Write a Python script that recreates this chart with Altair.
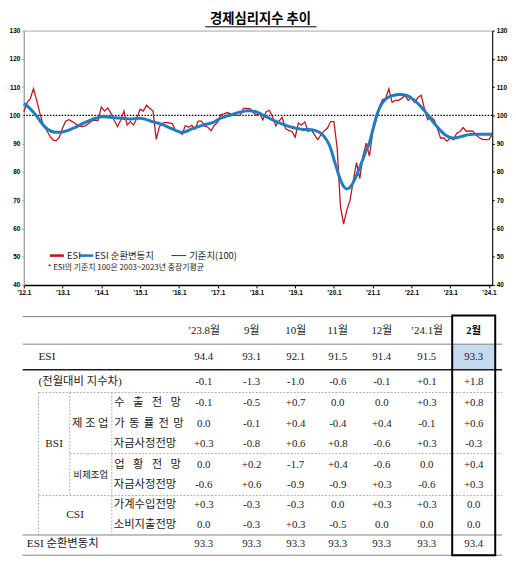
import altair as alt
import pandas as pd

# ---------------- data ----------------
title_text = "경제심리지수 추이"

# monthly ESI, Jan 2012 .. Feb 2024
esi = [
    101.3, 104.4, 105.9, 109.4, 105.3, 100.7, 96.6, 94.9, 92.8, 91.3, 91.0, 92.3,   # 2012
    95.5, 98.0, 98.5, 97.8, 97.0, 96.2, 96.0, 96.3, 97.0, 98.0, 98.3, 98.2,         # 2013
    103.0, 101.5, 102.6, 100.7, 98.3, 96.0, 98.3, 101.5, 96.6, 97.8, 96.6, 99.0,    # 2014
    102.2, 101.5, 103.6, 102.5, 101.5, 91.5, 96.0, 97.3, 97.5, 97.3, 97.0, 94.5,    # 2015
    94.5, 93.3, 96.4, 95.8, 96.5, 95.2, 98.0, 98.0, 96.2, 95.8, 94.6, 96.5,         # 2016
    97.5, 100.3, 100.5, 101.0, 100.5, 100.0, 100.0, 100.0, 102.5, 102.5, 102.4, 101.0,  # 2017
    100.1, 100.7, 98.4, 101.3, 101.8, 99.5, 96.3, 98.0, 99.3, 95.3, 94.7, 94.3,     # 2018
    92.3, 97.3, 96.6, 97.7, 94.3, 94.9, 93.1, 91.4, 93.2, 94.5, 95.5, 97.8,         # 2019
    97.8, 88.5, 68.0, 61.5, 66.5, 70.0, 77.0, 83.3, 77.6, 85.6, 90.2, 85.6,         # 2020
    94.0, 98.0, 102.5, 105.5, 106.0, 109.4, 104.6, 105.3, 105.3, 106.0, 107.0, 105.3,  # 2021
    106.3, 104.5, 106.3, 107.1, 102.5, 98.5, 99.5, 98.4, 95.5, 92.0, 92.0, 90.9,    # 2022
    92.0, 91.4, 93.7, 94.3, 95.7, 94.3, 94.5, 94.4, 93.1, 92.1, 91.5, 91.4,         # 2023
    91.5, 93.3,                                                                     # 2024
]

# monthly ESI cyclical component, Jan 2012 .. Feb 2024
esi_cycle = [
    104.2, 103.4, 102.3, 101.1, 99.7, 98.1, 96.6, 95.5, 94.7, 94.2, 94.0, 94.0,
    94.1, 94.4, 94.8, 95.3, 95.8, 96.4, 97.0, 97.5, 98.0, 98.5, 98.9, 99.2,
    99.5, 99.5, 99.4, 99.3, 99.2, 99.1, 99.0, 98.9, 98.8, 98.7, 98.8, 98.9,
    99.0, 98.8, 98.5, 98.1, 97.7, 97.4, 97.1, 96.7, 96.2, 95.7, 95.2, 94.7,
    94.2, 94.0, 94.2, 94.7, 95.2, 95.6, 96.0, 96.4, 96.7, 97.0, 97.3, 97.7,
    98.4, 99.0, 99.4, 99.8, 100.1, 100.5, 100.9, 101.2, 101.4, 101.6, 101.6, 101.5,
    101.2, 100.7, 100.1, 99.6, 99.0, 98.4, 97.9, 97.4, 96.9, 96.5, 96.1, 95.8,
    95.5, 95.3, 95.1, 95.0, 95.0, 94.9, 94.7, 94.3, 93.6, 92.5, 90.8, 88.3,
    84.4, 80.7, 77.2, 74.9, 74.0, 74.6, 76.3, 78.8, 81.6, 84.6, 87.6, 90.3,
    94.8, 99.0, 102.3, 104.4, 105.7, 106.5, 107.0, 107.2, 107.4, 107.4, 107.2, 106.8,
    106.1, 105.2, 104.2, 103.0, 101.7, 100.2, 98.7, 97.3, 95.9, 94.6, 93.5, 92.7,
    92.2, 92.0, 92.1, 92.4, 92.7, 93.0, 93.2, 93.3, 93.3, 93.3, 93.3, 93.3,
    93.3, 93.4,
]

x_tick_labels = ["’12.1", "’13.1", "’14.1", "’15.1", "’16.1", "’17.1", "’18.1",
                 "’19.1", "’20.1", "’21.1", "’22.1", "’23.1", "’24.1"]
y_tick_values = [40, 50, 60, 70, 80, 90, 100, 110, 120, 130]
baseline_value = [100]
legend_labels = ["ESI", "ESI 순환변동치", "기준치(100)"]
note_text = "* ESI의 기준치 100은 2003~2023년 중장기평균"

table_months = ["’23.8월", "9월", "10월", "11월", "12월", "’24.1월", "2월"]
esi_values = [94.4, 93.1, 92.1, 91.5, 91.4, 91.5, 93.3]
esi_diff = [-0.1, -1.3, -1.0, -0.6, -0.1, 0.1, 1.8]
bsi_mfg_export = [-0.1, -0.5, 0.7, 0.0, 0.0, 0.3, 0.8]
bsi_mfg_operation = [0.0, -0.1, 0.4, -0.4, 0.4, -0.1, 0.6]
bsi_mfg_funds = [0.3, -0.8, 0.6, 0.8, -0.6, 0.3, -0.3]
bsi_nonmfg_business = [0.0, 0.2, -1.7, 0.4, -0.6, 0.0, 0.4]
bsi_nonmfg_funds = [-0.6, 0.6, -0.9, -0.9, 0.3, -0.6, 0.3]
csi_income = [0.3, -0.3, -0.3, 0.0, 0.3, 0.3, 0.0]
csi_spending = [0.0, -0.3, 0.3, -0.5, 0.0, 0.0, 0.0]
esi_cycle_values = [93.3, 93.3, 93.3, 93.3, 93.3, 93.3, 93.4]

# ---------------- styles / layout ----------------
PLOT_W, PLOT_H = 475, 258
RED = "#c0161d"
BLUE = "#1f7cc1"
AX_FONT = "Liberation Sans"
KR_FONT = "Noto Sans CJK KR"
TB_FONT = "Liberation Serif, Noto Sans CJK KR"
N = len(esi)

X_SCALE = alt.Scale(domain=[0, N - 1], nice=False, zero=False)
Y_SCALE = alt.Scale(domain=[40, 130], nice=False, zero=False)

label_js = "[" + ",".join("'" + s + "'" for s in x_tick_labels) + "]"
x_axis = alt.Axis(values=list(range(0, N, 12)), labelExpr=label_js + "[datum.value/12]",
                  title=None, grid=False, domainColor="#000000", domainWidth=1.5,
                  tickColor="#000000", tickSize=3, labelFont=AX_FONT, labelFontSize=6.5,
                  labelFontWeight="bold", labelColor="#000000", labelPadding=2,
                  labelFlush=False, labelOverlap=False)
left_axis = alt.Axis(values=y_tick_values, title=None, grid=False, domainColor="#a0a0a0",
                     tickColor="#a0a0a0", tickSize=2, labelFont=AX_FONT, labelFontSize=6.5,
                     labelFontWeight="bold", labelColor="#000000", labelPadding=2)
right_axis = alt.Axis(values=y_tick_values, title=None, grid=False, orient="right",
                      domainColor="#000000", tickColor="#000000", tickSize=2,
                      labelFont=AX_FONT, labelFontSize=6.5, labelFontWeight="bold",
                      labelColor="#000000", labelPadding=2)

series = pd.DataFrame({"i": list(range(N)), "esi": esi, "cyc": esi_cycle})

base_rule = alt.Chart(pd.DataFrame({"v": baseline_value})).mark_rule(
    color="#000000", strokeWidth=1.1, strokeDash=[1.5, 1.5]
).encode(y=alt.Y("v:Q", scale=Y_SCALE, axis=None))

red_line = alt.Chart(series).mark_line(color=RED, strokeWidth=1.3).encode(
    x=alt.X("i:Q", scale=X_SCALE, axis=x_axis),
    y=alt.Y("esi:Q", scale=Y_SCALE, axis=left_axis),
)
blue_line = alt.Chart(series).mark_line(color=BLUE, strokeWidth=3, interpolate="monotone").encode(
    x=alt.X("i:Q", scale=X_SCALE, axis=x_axis),
    y=alt.Y("cyc:Q", scale=Y_SCALE, axis=right_axis),
)

# legend (positions in chart units: month index / index value)
leg_x0 = [8.1, 17.2, 45.7]
leg_x1 = [12.4, 21.5, 50.3]
leg_tx = [13.4, 22.0, 51.2]
leg_y = 50.4
leg_colors = [RED, BLUE, "#333333"]
leg_widths = [2.6, 2.6, 1.0]
legend_df = pd.DataFrame({"i": leg_x0, "i2": leg_x1, "t": leg_tx, "y": [leg_y] * 3,
                          "c": leg_colors, "w": leg_widths, "lab": legend_labels})
legend_lines = alt.Chart(legend_df).mark_rule().encode(
    x=alt.X("i:Q", scale=X_SCALE, axis=x_axis), x2="i2:Q",
    y=alt.Y("y:Q", scale=Y_SCALE, axis=None),
    color=alt.Color("c:N", scale=None), strokeWidth=alt.StrokeWidth("w:Q", scale=None),
)
legend_text = alt.Chart(legend_df).mark_text(
    align="left", baseline="middle", font=KR_FONT, fontSize=9.5, color="#222222"
).encode(x=alt.X("t:Q", scale=X_SCALE, axis=x_axis), y=alt.Y("y:Q", scale=Y_SCALE, axis=None),
         text="lab:N")
note = alt.Chart(pd.DataFrame({"i": [7.4], "y": [45.9], "lab": [note_text]})).mark_text(
    align="left", baseline="middle", font=KR_FONT, fontSize=8, color="#222222"
).encode(x=alt.X("i:Q", scale=X_SCALE, axis=x_axis), y=alt.Y("y:Q", scale=Y_SCALE, axis=None),
         text="lab:N")

# title drawn above the plot, underlined
title_mark = alt.Chart(pd.DataFrame({"lab": [title_text]})).mark_text(
    align="center", baseline="middle", font=KR_FONT, fontSize=13.5, fontWeight="bold", color="#000000"
).encode(x=alt.value(240), y=alt.value(-11.5), text="lab:N")
underline = alt.Chart(pd.DataFrame({"k": [0]})).mark_rule(color="#000000", strokeWidth=1).encode(
    x=alt.value(184), x2=alt.value(297), y=alt.value(-3.8)
)

top = alt.layer(base_rule, red_line, blue_line, legend_lines, legend_text, note,
                title_mark, underline).resolve_scale(
    y="independent"
).properties(
    width=PLOT_W, height=PLOT_H,
    view=alt.ViewBackground(stroke="#a6a6a6", strokeWidth=1),
)

# ---------------- table ----------------
col_x = [205, 254, 299, 342, 387, 433, 481]
row_y = {"head": 333, "esi": 359, "diff": 384, "exp": 406, "opr": 427, "mfund": 447,
         "biz": 469, "nfund": 489, "inc": 509.5, "spd": 529.5, "cyc": 549}

TX = alt.Scale(domain=[20, 510], range=[-1, 485], nice=False, zero=False)
TY = alt.Scale(domain=[310, 560], range=[0, 250], nice=False, zero=False)


def fmt_level(v):
    return f"{v:.1f}"


def fmt_change(v):
    return "0.0" if abs(v) < 1e-9 else f"{v:+.1f}"


value_rows = [
    (esi_values, fmt_level, "esi"), (esi_diff, fmt_change, "diff"),
    (bsi_mfg_export, fmt_change, "exp"), (bsi_mfg_operation, fmt_change, "opr"),
    (bsi_mfg_funds, fmt_change, "mfund"), (bsi_nonmfg_business, fmt_change, "biz"),
    (bsi_nonmfg_funds, fmt_change, "nfund"), (csi_income, fmt_change, "inc"),
    (csi_spending, fmt_change, "spd"), (esi_cycle_values, fmt_level, "cyc"),
]
num_recs = []
for vals, f, key in value_rows:
    for j, v in enumerate(vals):
        num_recs.append({"x": col_x[j], "y": row_y[key], "t": f(v)})
num_recs += [{"x": col_x[j], "y": row_y["head"], "t": table_months[j]} for j in range(6)]
head_bold = [{"x": col_x[6], "y": row_y["head"], "t": table_months[6]}]

left_labels = [
    {"x": 36, "y": row_y["esi"], "t": "ESI"},
    {"x": 36, "y": row_y["diff"], "t": "(전월대비 지수차)"},
    {"x": 113, "y": row_y["mfund"], "t": "자금사정전망"},
    {"x": 113, "y": row_y["nfund"], "t": "자금사정전망"},
    {"x": 113, "y": row_y["inc"], "t": "가계수입전망"},
    {"x": 113, "y": row_y["spd"], "t": "소비지출전망"},
    {"x": 24, "y": row_y["cyc"], "t": "ESI 순환변동치"},
]


def spread(text, x0, x1, y, size):
    n = len(text)
    step = (x1 - x0 - size) / (n - 1)
    return [{"x": x0 + size / 2 + k * step, "y": y, "t": ch} for k, ch in enumerate(text)]


spread_recs = (spread("수출전망", 113, 182, row_y["exp"], 11.5)
               + spread("가동률전망", 113, 185, row_y["opr"], 11.5)
               + spread("업황전망", 113, 182, row_y["biz"], 11.5)
               + spread("제조업", 70, 108, row_y["opr"], 11.5)
               + [{"x": 52, "y": 447.5, "t": "BSI"}, {"x": 73.5, "y": 519.5, "t": "CSI"}])
small_recs = [{"x": 89.5, "y": 479, "t": "비제조업"}]

h_solid = pd.DataFrame({"x": [20, 20, 20, 20], "x2": [459, 510, 510, 510],
                        "y": [318, 346, 539.5, 560]})
h_black = pd.DataFrame({"x": [20], "x2": [510], "y": [372]})
h_dot = pd.DataFrame({"x": [36, 68, 36], "x2": [510, 510, 510], "y": [395, 457, 499.5]})
v_dot = pd.DataFrame({"x": [36, 68, 111], "y": [395, 395, 395], "y2": [539.5, 499.5, 539.5]})
hl_cell = pd.DataFrame({"x": [459], "x2": [503], "y": [346], "y2": [372]})
box = pd.DataFrame({"x": [459], "x2": [503], "y": [317], "y2": [560]})


def hx(f="x"):
    return alt.X(f + ":Q", scale=TX, axis=None)


def vy(f="y"):
    return alt.Y(f + ":Q", scale=TY, axis=None)


t_cell = alt.Chart(hl_cell).mark_rect(color="#c5d9f1").encode(x=hx(), x2="x2:Q", y=vy(), y2="y2:Q")
t_solid = alt.Chart(h_solid).mark_rule(color="#7f7f7f", strokeWidth=1).encode(x=hx(), x2="x2:Q", y=vy())
t_black = alt.Chart(h_black).mark_rule(color="#1a1a1a", strokeWidth=1.5).encode(x=hx(), x2="x2:Q", y=vy())
t_hdot = alt.Chart(h_dot).mark_rule(color="#9a9a9a", strokeWidth=0.8, strokeDash=[2, 1.5]).encode(
    x=hx(), x2="x2:Q", y=vy())
t_vdot = alt.Chart(v_dot).mark_rule(color="#9a9a9a", strokeWidth=0.8, strokeDash=[2, 1.5]).encode(
    x=hx(), y=vy(), y2="y2:Q")
t_box = alt.Chart(box).mark_rect(fillOpacity=0, stroke="#000000", strokeWidth=2).encode(
    x=hx(), x2="x2:Q", y=vy(), y2="y2:Q")

t_nums = alt.Chart(pd.DataFrame(num_recs)).mark_text(
    align="center", baseline="middle", font=TB_FONT, fontSize=11, color="#1a1a1a"
).encode(x=hx(), y=vy(), text="t:N")
t_head_bold = alt.Chart(pd.DataFrame(head_bold)).mark_text(
    align="center", baseline="middle", font=TB_FONT, fontSize=10.5, fontWeight="bold", color="#000000"
).encode(x=hx(), y=vy(), text="t:N")
t_left = alt.Chart(pd.DataFrame(left_labels)).mark_text(
    align="left", baseline="middle", font=TB_FONT, fontSize=11.5, color="#1a1a1a"
).encode(x=hx(), y=vy(), text="t:N")
t_spread = alt.Chart(pd.DataFrame(spread_recs)).mark_text(
    align="center", baseline="middle", font=TB_FONT, fontSize=11.5, color="#1a1a1a"
).encode(x=hx(), y=vy(), text="t:N")
t_small = alt.Chart(pd.DataFrame(small_recs)).mark_text(
    align="center", baseline="middle", font=TB_FONT, fontSize=9.5, color="#1a1a1a"
).encode(x=hx(), y=vy(), text="t:N")

table = alt.layer(t_cell, t_solid, t_black, t_hdot, t_vdot, t_box,
                  t_nums, t_head_bold, t_left, t_spread, t_small).properties(
    width=PLOT_W, height=250)

chart = alt.vconcat(top, table, spacing=11).configure_view(stroke="transparent").properties(
    padding=0, background="#ffffff")

chart.save("out.html", embed_options={"renderer": "svg", "actions": False})
